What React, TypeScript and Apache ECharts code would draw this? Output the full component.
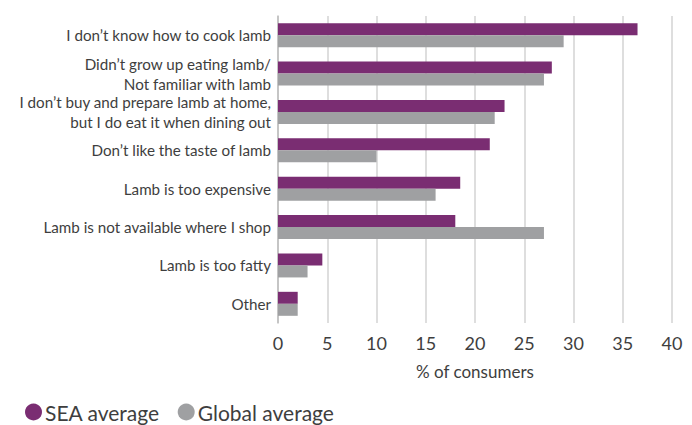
import React, { useEffect, useRef } from "react";
import * as echarts from "echarts";

const categories = [
  "I don\u2019t know how to cook lamb",
  "Didn\u2019t grow up eating lamb/\nNot familiar with lamb",
  "I don\u2019t buy and prepare lamb at home,\nbut I do eat it when dining out",
  "Don\u2019t like the taste of lamb",
  "Lamb is too expensive",
  "Lamb is not available where I shop",
  "Lamb is too fatty",
  "Other",
];
const seaAverage = [36.5, 27.8, 23.0, 21.5, 18.5, 18.0, 4.5, 2.0];
const globalAverage = [29.0, 27.0, 22.0, 10.0, 16.0, 27.0, 3.0, 2.0];
const xTicks = { min: 0, max: 40, interval: 5 };

const FONT = "Lato, 'Open Sans', sans-serif";
const TEXT = "#3e3e3e";

export default function App() {
  const ref = useRef<HTMLDivElement>(null);
  useEffect(() => {
    if (!ref.current) return;
    const chart = echarts.init(ref.current, null, { renderer: "svg" });
    chart.setOption({
      animation: false,
      textStyle: { fontFamily: FONT },
      legend: {
        left: 25,
        top: 400,
        padding: 0,
        icon: "circle",
        itemWidth: 17,
        itemHeight: 17,
        itemGap: 18,
        textStyle: { fontSize: 21, lineHeight: 24, color: TEXT, fontFamily: FONT, padding: [0, 0, 0, -2] },
        data: ["SEA average", "Global average"],
      },
      grid: { left: 278, right: 20, top: 16, bottom: 102, containLabel: false },
      xAxis: {
        type: "value",
        min: xTicks.min,
        max: xTicks.max,
        interval: xTicks.interval,
        name: "% of consumers",
        nameLocation: "middle",
        nameGap: 40,
        nameTextStyle: { fontSize: 17, color: TEXT, fontFamily: FONT },
        axisLine: { show: false },
        axisTick: { show: false },
        axisLabel: { fontSize: 18, color: TEXT, margin: 11, fontFamily: FONT },
        splitLine: { show: true, lineStyle: { color: "#d3d3d3", width: 1.5 } },
      },
      yAxis: {
        type: "category",
        inverse: true,
        data: categories,
        axisLine: { show: true, lineStyle: { color: "#bdbdbd", width: 1.5 } },
        axisTick: { show: false },
        axisLabel: {
          fontSize: 15.2,
          color: TEXT,
          margin: 7,
          lineHeight: 20,
          fontFamily: FONT,
        },
      },
      series: [
        {
          name: "SEA average",
          type: "bar",
          data: seaAverage,
          barWidth: 12,
          barGap: "0%",
          itemStyle: { color: "#7a2d72" },
        },
        {
          name: "Global average",
          type: "bar",
          data: globalAverage,
          barWidth: 12,
          barGap: "0%",
          itemStyle: { color: "#9fa0a2" },
        },
      ],
    });
    return () => chart.dispose();
  }, []);
  return (
    <div
      ref={ref}
      style={{ position: "fixed", left: 0, top: 0, width: 692, height: 425, background: "#fff" }}
    />
  );
}
